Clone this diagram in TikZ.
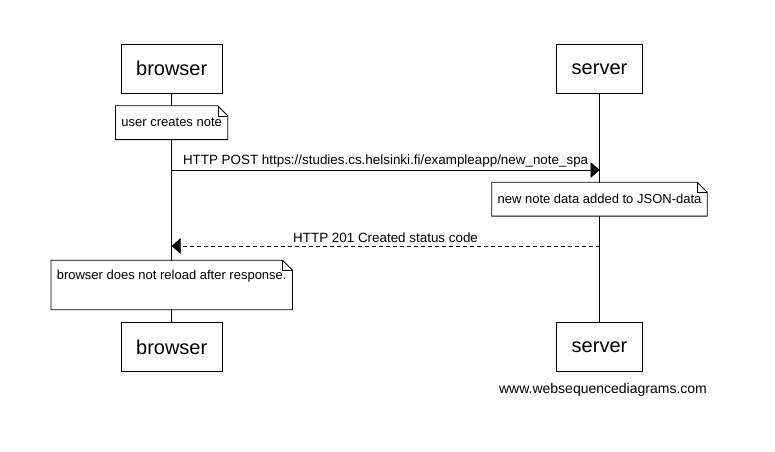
\documentclass[tikz,border=0pt]{standalone}
\usepackage{fontspec}
\setmainfont{Liberation Sans}
\usepackage{tikz}
\usetikzlibrary{arrows.meta}

\begin{document}
\begin{tikzpicture}[x=1pt,y=-1pt,line width=0.8pt,
  actor/.style={rectangle,draw,fill=white,inner xsep=15pt,minimum height=49pt,
    font=\fontsize{20}{24}\selectfont},
  note/.style={rectangle,fill=white,inner xsep=5.5pt,minimum height=33pt,
    font=\fontsize{13}{15.6}\selectfont},
  msg/.style={-{Triangle[length=9pt,width=16pt]}},
  reply/.style={msg,dash pattern=on 4pt off 3pt},
  label/.style={above,inner sep=2.5pt,font=\fontsize{13.4}{16}\selectfont}]

  \useasboundingbox (0,0) rectangle (775,451);

  % actors, top and bottom
  \node[actor] (browser) at (171.7,68.8) {browser};
  \node[actor] (server) at (599.5,68.8) {server};
  \node[actor] (browser2) at (171.7,347) {browser};
  \node[actor] (server2) at (599.5,347) {server};

  % lifelines
  \draw (browser) -- (browser2);
  \draw (server) -- (server2);

  % notes
  \node[note] (n1) at (171.7,122.7) {user creates note};
  \node[note] (n2) at (599.5,199.2) {new note data added to JSON-data};
  \node[note,align=left,minimum height=48.6pt] (n3) at (171.7,285)
    {browser does not reload after response.\\\strut};

  \foreach \n in {n1,n2,n3} {
    \draw (\n.south west) -- (\n.north west) -- ([xshift=-10pt]\n.north east)
      -- ([yshift=-10pt]\n.north east) -- (\n.south east) -- cycle;
    \draw[line width=0.5pt] ([xshift=-10pt]\n.north east) |- ([yshift=-10pt]\n.north east);
  }

  % messages
  \coordinate (b1) at (171.7,170);
  \coordinate (s1) at (599.5,170);
  \coordinate (s2) at (599.5,246);
  \coordinate (b2) at (171.7,246);

  \draw[msg] (b1) -- node[label]
    {HTTP POST https://studies.cs.helsinki.fi/exampleapp/new\_note\_spa} (s1);
  \draw[reply] (s2) -- node[label] {HTTP 201 Created status code} (b2);

  \node[font=\fontsize{14}{16.8}\selectfont] (wsd) at (603,390) {www.websequencediagrams.com};
\end{tikzpicture}
\end{document}
